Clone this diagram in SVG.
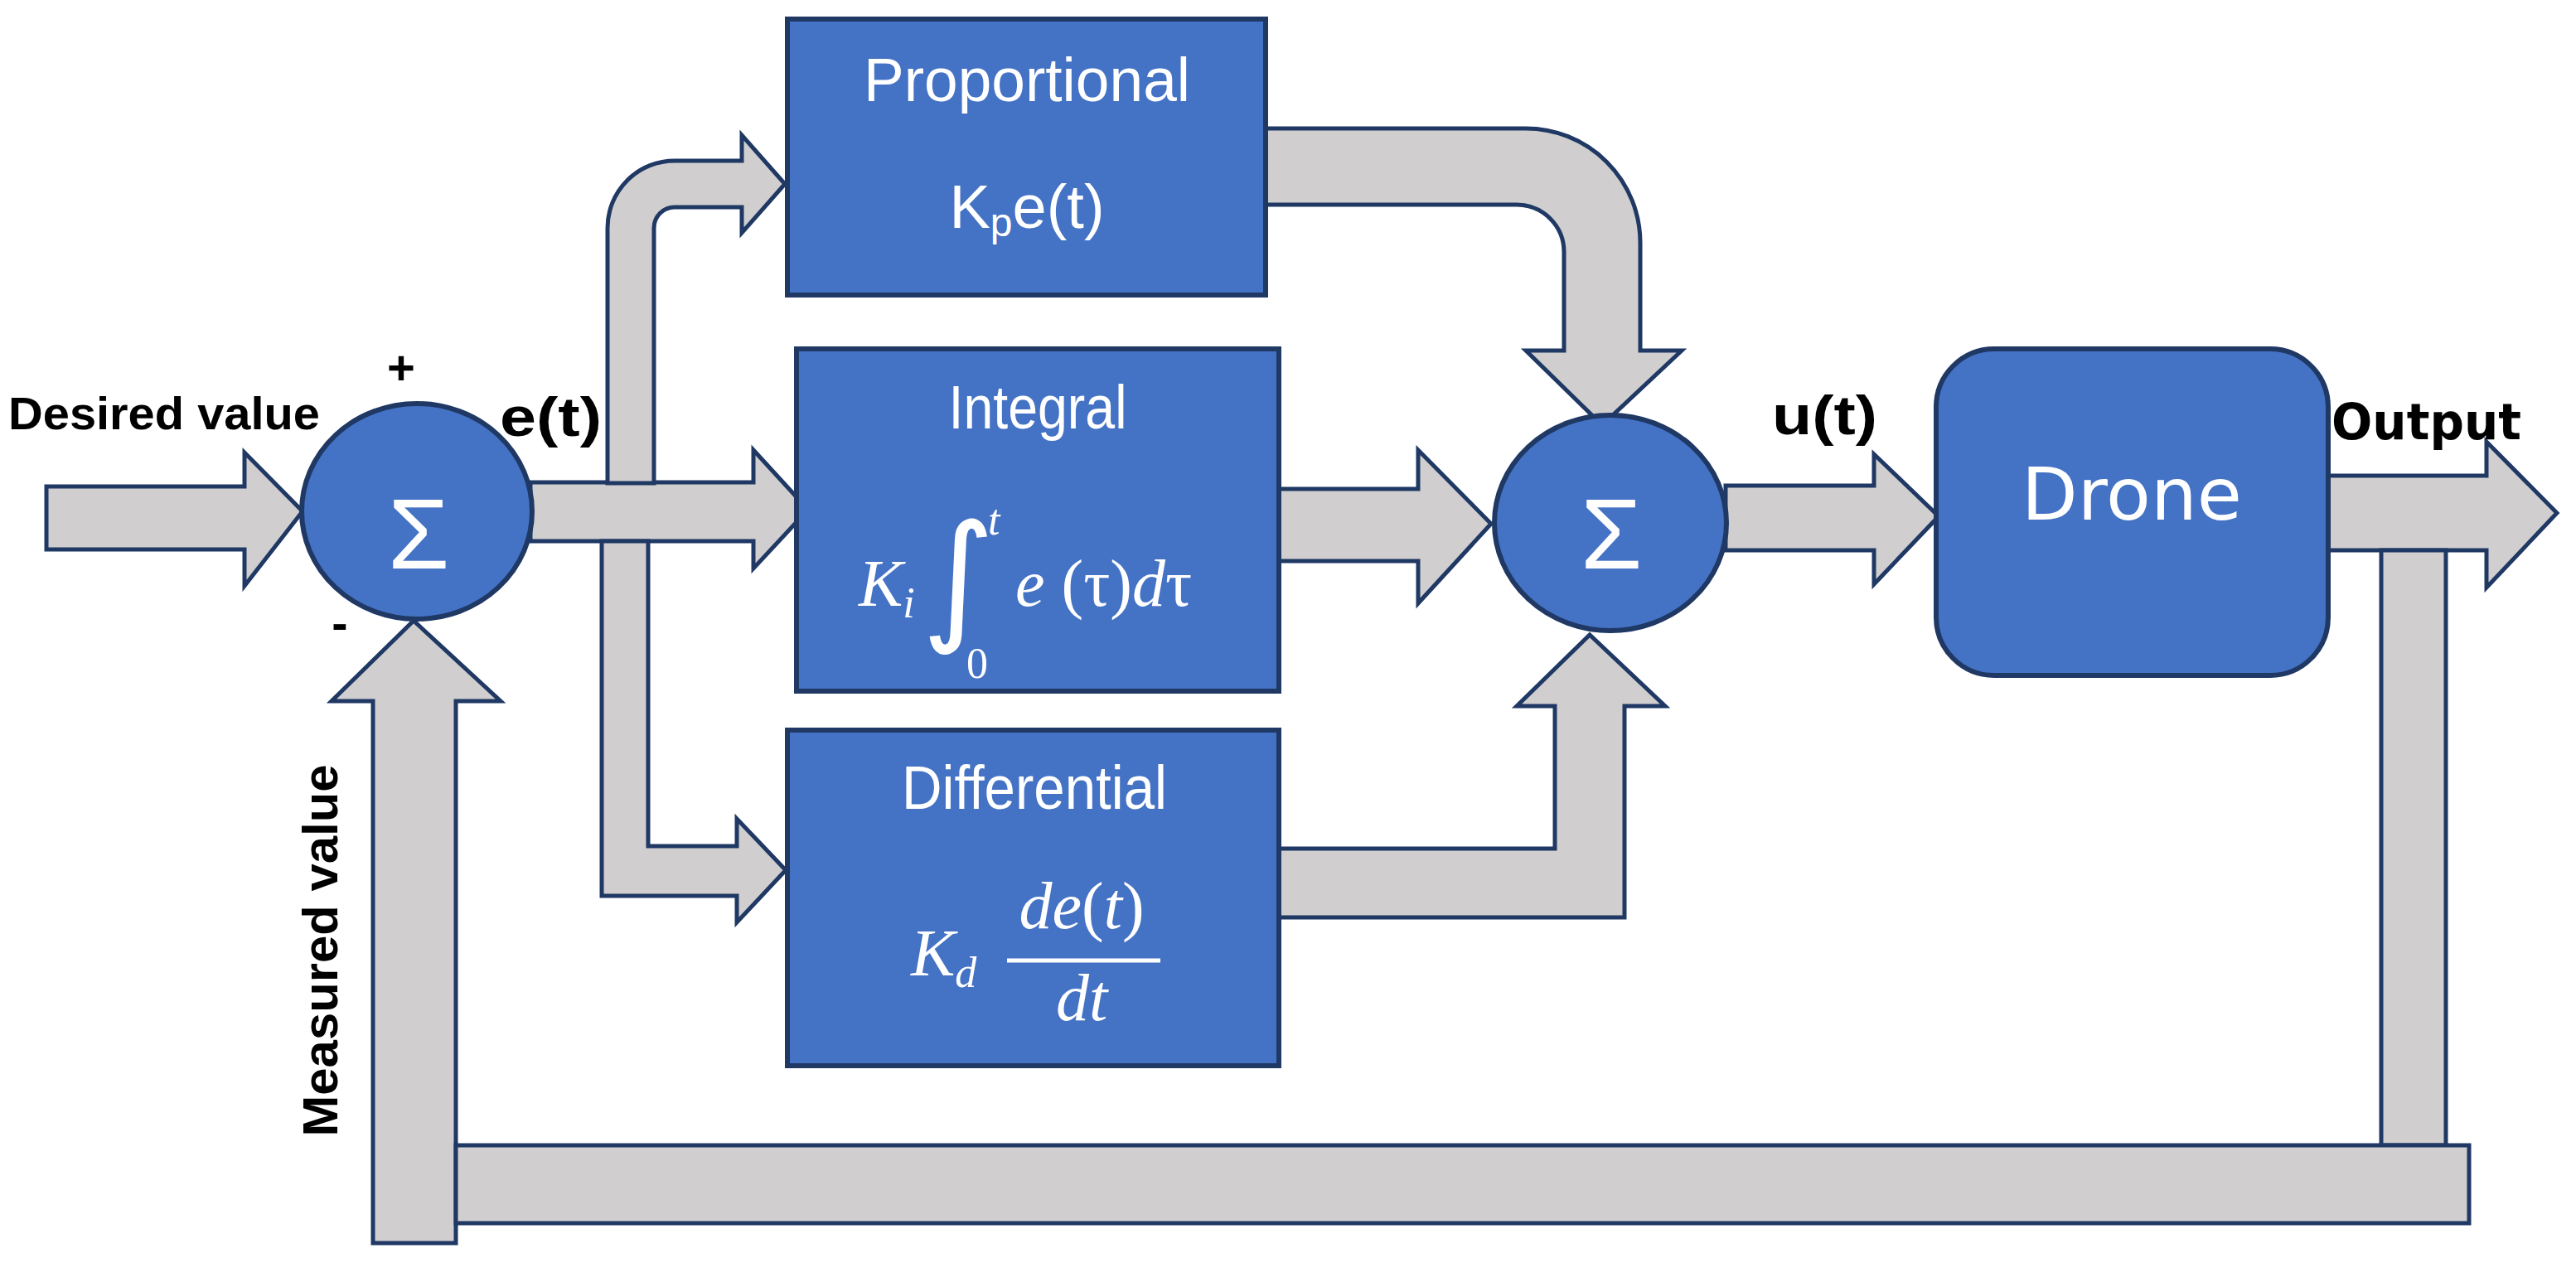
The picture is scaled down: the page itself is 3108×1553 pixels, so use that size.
<svg xmlns="http://www.w3.org/2000/svg" width="3108" height="1553" viewBox="0 0 3108 1553">
<style>
.arr{fill:#D0CECE;stroke:#1F3864;stroke-width:5;stroke-linejoin:miter}
.box{fill:#4472C4;stroke:#1F3864;stroke-width:6}
.lbl{font-family:"Liberation Sans",Arial,sans-serif;font-weight:bold;fill:#000}
.wt{font-family:"Liberation Sans",Arial,sans-serif;fill:#fff}
.mth{font-family:"Liberation Serif","DejaVu Serif",serif;font-style:italic;fill:#fff}
</style>
<rect width="3108" height="1553" fill="#fff"/>
<g id="connectors">
<path class="arr" d="M56,587 L295,587 L295,546 L365,617 L295,707 L295,663 L56,663 Z"/>
<path class="arr" d="M640,582 L909,582 L909,543 L975,615 L909,686 L909,653 L640,653 Z"/>
<path class="arr" d="M733,583 L733,275 A81,81 0 0 1 814,194 L895,194 L895,163 L947,222 L895,281 L895,250 L814,250 A25,25 0 0 0 789,275 L789,583 Z"/>
<path class="arr" d="M726,653 L726,1081 L889,1081 L889,1113 L948,1050 L889,988 L889,1021 L782,1021 L782,653 Z"/>
<path class="arr" d="M1520,155 L1841,155 A138,138 0 0 1 1979,293 L1979,423 L2029,423 L1933,513 L1841,423 L1887,423 L1887,304 A57,57 0 0 0 1830,247 L1520,247 Z"/>
<path class="arr" d="M1540,590 L1711,590 L1711,543 L1799,632 L1711,728 L1711,677 L1540,677 Z"/>
<path class="arr" d="M1539,1024 L1876,1024 L1876,852 L1830,852 L1918,766 L2009,852 L1960,852 L1960,1107 L1539,1107 Z"/>
<path class="arr" d="M2082,586 L2261,586 L2261,548 L2339,623 L2261,705 L2261,664 L2082,664 Z"/>
<path class="arr" d="M2805,574 L3000,574 L3000,533 L3085,619 L3000,709 L3000,664 L2805,664 Z"/>
<rect class="arr" x="2873" y="664" width="78" height="718"/>
<path class="arr" d="M450,1500 L450,846 L400,846 L499,749 L604,846 L550,846 L550,1500 Z"/>
<rect class="arr" x="550" y="1382" width="2429" height="94"/>
</g>
<g id="sum1">
<ellipse class="box" cx="503" cy="617" rx="139" ry="130"/>
<text class="wt" x="505" y="686" font-size="120" text-anchor="middle">Σ</text>
</g>
<g id="proportional">
<rect class="box" x="950" y="23" width="577" height="333"/>
<text class="wt" x="1239" y="122" font-size="74" text-anchor="middle" textLength="394" lengthAdjust="spacingAndGlyphs">Proportional</text>
<text class="wt" x="1239" y="275" font-size="74" text-anchor="middle">K<tspan font-size="48" dy="10">p</tspan><tspan dy="-10">e(t)</tspan></text>
</g>
<g id="integral">
<rect class="box" x="961" y="421" width="582" height="413"/>
<text class="wt" x="1252" y="517" font-size="74" text-anchor="middle" textLength="215" lengthAdjust="spacingAndGlyphs">Integral</text>
<text class="mth" x="1036" y="731" font-size="80">K<tspan font-size="52" dy="14">i</tspan></text>
<text x="1112" y="754" font-family="DejaVu Sans,sans-serif" font-size="170" fill="#fff">∫</text>
<text class="mth" x="1192" y="645" font-size="52">t</text>
<text x="1166" y="818" font-family="Liberation Serif,serif" font-size="52" fill="#fff">0</text>
<text class="mth" x="1225" y="731" font-size="80">e <tspan font-style="normal">(τ)</tspan>d<tspan font-style="normal">τ</tspan></text>
</g>
<g id="differential">
<rect class="box" x="950" y="881" width="593" height="405"/>
<text class="wt" x="1248" y="976" font-size="74" text-anchor="middle" textLength="320" lengthAdjust="spacingAndGlyphs">Differential</text>
<text class="mth" x="1099" y="1177" font-size="80">K<tspan font-size="52" dy="14">d</tspan></text>
<text class="mth" x="1305" y="1120" font-size="80" text-anchor="middle">de<tspan font-style="normal">(</tspan>t<tspan font-style="normal">)</tspan></text>
<line x1="1215" y1="1159" x2="1400" y2="1159" stroke="#fff" stroke-width="5"/>
<text class="mth" x="1305" y="1231" font-size="80" text-anchor="middle">dt</text>
</g>
<g id="sum2">
<ellipse class="box" cx="1943" cy="631" rx="140" ry="130"/>
<text class="wt" x="1944" y="686" font-size="120" text-anchor="middle">Σ</text>
</g>
<g id="drone">
<rect class="box" x="2336" y="421" width="473" height="394" rx="70"/>
<text x="2572" y="627" font-family="DejaVu Sans,sans-serif" font-size="88" fill="#fff" text-anchor="middle">Drone</text>
</g>
<g id="labels">
<text class="lbl" x="10" y="518" font-size="56" textLength="376" lengthAdjust="spacingAndGlyphs">Desired value</text>
<text class="lbl" x="484" y="464" font-size="58" text-anchor="middle">+</text>
<text class="lbl" x="410" y="772" font-size="58" text-anchor="middle">-</text>
<text class="lbl" x="603" y="526" font-size="66" textLength="123" lengthAdjust="spacingAndGlyphs">e(t)</text>
<text class="lbl" x="2138" y="524" font-size="66" textLength="127" lengthAdjust="spacingAndGlyphs">u(t)</text>
<text x="2813" y="530" font-family="DejaVu Sans,sans-serif" font-weight="bold" font-size="60" textLength="229" lengthAdjust="spacingAndGlyphs">Output</text>
<text class="lbl" transform="translate(407,1147) rotate(-90)" font-size="60" text-anchor="middle" textLength="449" lengthAdjust="spacingAndGlyphs">Measured value</text>
</g>
</svg>
